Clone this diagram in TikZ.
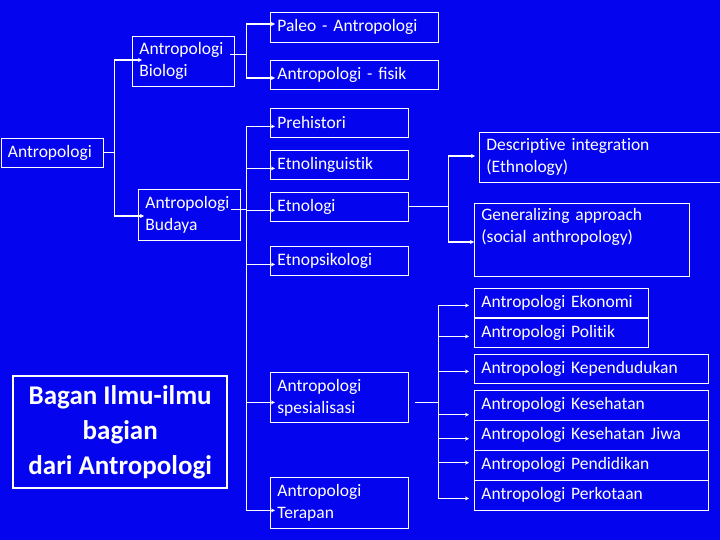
\documentclass[tikz,border=0pt]{standalone}
\usepackage{fontspec}
\setmainfont{Carlito}[Ligatures=NoCommon]
\usepackage{xcolor}
\usetikzlibrary{calc,arrows.meta}
\definecolor{latar}{RGB}{4,4,238}

\begin{document}
\begin{tikzpicture}[x=1pt,y=-1pt,
  kotak/.style={draw=white, line width=0.8pt, text=white, anchor=north west, align=left,
    inner xsep=7pt, inner ysep=0pt, font=\fontsize{17.5}{22}\selectfont},
  garis/.style={white, line width=0.8pt},
  panah/.style={white, line width=1.6pt, -{Stealth[length=4pt,width=4pt]}}]
  \fill[latar] (0,0) rectangle (720,540);
  \useasboundingbox (0,0) rectangle (720,540);

  \node[kotak, text width=88pt, minimum height=29pt] (root) at (0.5,138) {Antropologi};
  \node[kotak, text width=88pt, minimum height=50pt] (bio) at (132,36) {Antropologi\\Biologi};
  \node[kotak, text width=88pt, minimum height=51pt] (bud) at (138,189) {Antropologi\\Budaya};
  \node[kotak, text width=154pt, minimum height=30pt] (paleo) at (270,12) {Paleo - Antropologi};
  \node[kotak, text width=154pt, minimum height=29pt] (fisik) at (270,60) {Antropologi - ﬁsik};
  \node[kotak, text width=124pt, minimum height=29pt] (pre) at (270,108) {Prehistori};
  \node[kotak, text width=124pt, minimum height=29pt] (lin) at (270,150) {Etnolinguistik};
  \node[kotak, text width=124pt, minimum height=29pt] (etno) at (270,192) {Etnologi};
  \node[kotak, text width=124pt, minimum height=29pt] (psi) at (270,246) {Etnopsikologi};
  \node[kotak, text width=229pt, minimum height=50pt] (desk) at (479,132) {Descriptive integration\\(Ethnology)};
  \node[kotak, text width=201pt, minimum height=73pt] (gen) at (474,203) {Generalizing approach\\(social anthropology)\\\strut};
  \node[kotak, text width=124pt, minimum height=50pt] (spes) at (270,372) {Antropologi\\spesialisasi};
  \node[kotak, text width=124pt, minimum height=51pt] (terap) at (270,477) {Antropologi\\Terapan};
  \node[kotak, text width=160pt, minimum height=29pt] (eko) at (474,288) {Antropologi Ekonomi};
  \node[kotak, text width=160pt, minimum height=29pt] (pol) at (474,318) {Antropologi Politik};
  \node[kotak, text width=220pt, minimum height=29pt] (kep) at (474,354) {Antropologi Kependudukan};
  \node[kotak, text width=220pt, minimum height=29.5pt] (kes) at (474,390) {Antropologi Kesehatan};
  \node[kotak, text width=220pt, minimum height=29.5pt] (jiwa) at (474,420) {Antropologi Kesehatan Jiwa};
  \node[kotak, text width=220pt, minimum height=29.5pt] (didik) at (474,450) {Antropologi Pendidikan};
  \node[kotak, text width=220pt, minimum height=30pt] (kota) at (474,480) {Antropologi Perkotaan};
  \node[draw=white, line width=2.4pt, text=white, anchor=north west, minimum width=214pt,
    minimum height=112pt, align=center, inner sep=0pt,
    font=\fontsize{27}{35}\selectfont\bfseries] (bagan) at (12,375) {Bagan Ilmu-ilmu\\bagian\\dari Antropologi};

  \coordinate (s0a) at (114,60);
  \coordinate (s0b) at (114,216);
  \draw[garis] (root.east) -- (root.east -| s0a);
  \draw[garis] (s0a) -- (s0b);
  \draw[panah] (s0a) -- ($(s0a -| bio.west)+(10,0)$);
  \draw[panah] (s0b) -- ($(s0b -| bud.west)+(6,0)$);

  \coordinate (s1a) at (246,24);
  \coordinate (s1b) at (246,78);
  \coordinate (bioout) at ($(bio.north east)+(-5,18)$);
  \draw[garis] (bioout) -- (bioout -| s1a);
  \draw[garis] (s1a) -- (s1b);
  \draw[panah] (s1a) -- ($(s1a -| paleo.west)+(5,0)$);
  \draw[panah] (s1b) -- ($(s1b -| fisik.west)+(5,0)$);

  \coordinate (s2a) at (246,126);
  \coordinate (s2b) at (246,510);
  \coordinate (budout) at ($(bud.north east)+(-10,20)$);
  \draw[garis] (budout) -- (budout -| s2a);
  \draw[garis] (s2a) -- (s2b);
  \foreach \n/\d in {pre/3.5, lin/3.5, etno/3.5, psi/3.5, spes/5, terap/7.5}
    \draw[panah] ($(s2a |- \n.west)+(0,\d)$) -- ($(\n.west)+(5,\d)$);

  \coordinate (s3a) at (448,156);
  \coordinate (s3b) at (448,242);
  \draw[garis] (etno.east) -- (etno.east -| s3a);
  \draw[garis] (s3a) -- (s3b);
  \draw[panah] (s3a) -- ($(s3a -| desk.west)+(-4,0)$);
  \draw[panah] (s3b) -- (s3b -| gen.west);

  \coordinate (s4a) at (438,305);
  \coordinate (s4b) at (438,498);
  \coordinate (spesout) at ($(spes.east)+(6,5)$);
  \draw[garis] (spesout) -- (spesout -| s4a);
  \draw[garis] (s4a) -- (s4b);
  \foreach \n/\d in {eko/2.5, pol/3.5, kep/2.5, kes/9.5, jiwa/3.5, didik/-2.5, kota/3}
    \draw[panah] ($(s4a |- \n.west)+(0,\d)$) -- ($(\n.west)+(-5,\d)$);
\end{tikzpicture}
\end{document}
